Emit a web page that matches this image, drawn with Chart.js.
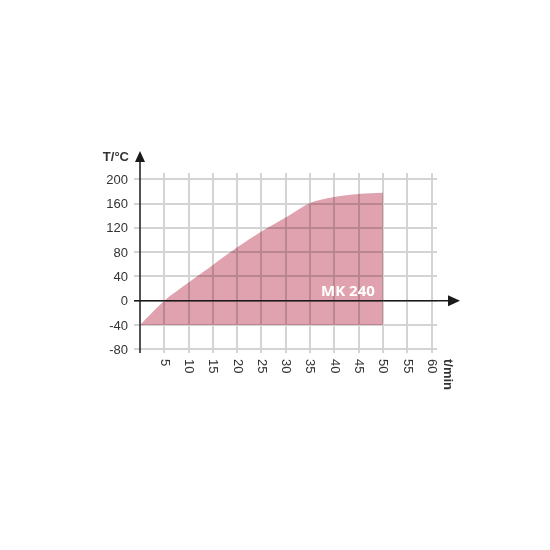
<!DOCTYPE html>
<html>
<head>
<meta charset="utf-8">
<script src="https://cdn.jsdelivr.net/npm/chart.js@4"></script>
<style>
  html, body { margin: 0; padding: 0; background: #fff; }
  #chart { display: block; }
</style>
</head>
<body>
<canvas id="chart" width="550" height="550"></canvas>
<script>
// heating curve, minutes vs °C
const times = [0, 5, 10, 15, 20, 25, 30, 35, 40, 45, 50];
const temps = [-40, 0, 30, 59, 88, 114, 137, 161, 171, 176, 178];
const xTicks = [5, 10, 15, 20, 25, 30, 35, 40, 45, 50, 55, 60];
const yTicks = [-80, -40, 0, 40, 80, 120, 160, 200];
const seriesName = 'MK 240';
const labelAt = { x: 42.8, y: 7.7 };

const axisDecor = {
    id: 'axisDecor',
    beforeDatasetsDraw(chart) {
        chart.ctx.save();
        chart.ctx.globalCompositeOperation = 'multiply';
    },
    afterDatasetsDraw(chart) {
        const ctx = chart.ctx;
        ctx.restore();
        const xs = chart.scales.x, ys = chart.scales.y, area = chart.chartArea;
        const x0 = xs.getPixelForValue(0);
        const y0 = ys.getPixelForValue(0);

        ctx.save();
        // series name
        ctx.fillStyle = '#ffffff';
        ctx.font = 'bold 15px "Open Sans"';
        ctx.textAlign = 'center';
        ctx.textBaseline = 'alphabetic';
        ctx.fillText(seriesName, xs.getPixelForValue(labelAt.x), ys.getPixelForValue(labelAt.y));

        // axes with arrows
        ctx.strokeStyle = '#1a1a1a';
        ctx.fillStyle = '#1a1a1a';
        ctx.lineWidth = 1.5;
        const topTip = area.top - 22;
        const rightTip = area.right + 23;
        ctx.beginPath();
        ctx.moveTo(x0, area.bottom);
        ctx.lineTo(x0, topTip + 8);
        ctx.moveTo(x0 - 6, y0);
        ctx.lineTo(rightTip - 10, y0);
        ctx.stroke();
        ctx.beginPath();
        ctx.moveTo(x0, topTip);
        ctx.lineTo(x0 - 5, topTip + 11);
        ctx.lineTo(x0 + 5, topTip + 11);
        ctx.closePath();
        ctx.fill();
        ctx.beginPath();
        ctx.moveTo(rightTip, y0);
        ctx.lineTo(rightTip - 12, y0 - 5.5);
        ctx.lineTo(rightTip - 12, y0 + 5.5);
        ctx.closePath();
        ctx.fill();

        // y tick labels
        ctx.fillStyle = '#333';
        ctx.font = '13px "Liberation Sans", Arial, sans-serif';
        ctx.textAlign = 'right';
        ctx.textBaseline = 'middle';
        yTicks.forEach(function (v) {
            ctx.fillText(String(v), x0 - 12, ys.getPixelForValue(v) + 1);
        });

        // x tick labels, rotated clockwise
        ctx.textAlign = 'left';
        xTicks.forEach(function (v) {
            ctx.save();
            ctx.translate(xs.getPixelForValue(v), area.bottom + 6);
            ctx.rotate(Math.PI / 2);
            ctx.fillText(String(v), 0, 0);
            ctx.restore();
        });
        ctx.font = 'bold 13px "Liberation Sans", Arial, sans-serif';
        ctx.save();
        ctx.translate(area.right + 11, area.bottom + 6);
        ctx.rotate(Math.PI / 2);
        ctx.fillText('t/min', 0, 0);
        ctx.restore();

        // y axis title
        ctx.textAlign = 'right';
        ctx.fillText('T/°C', x0 - 11, topTip + 6);
        ctx.restore();
    }
};

new Chart(document.getElementById('chart'), {
    type: 'line',
    data: {
        labels: times,
        datasets: [{
            label: seriesName,
            data: times.map(function (t, i) { return { x: t, y: temps[i] }; }),
            borderWidth: 0,
            borderColor: 'rgba(0,0,0,0)',
            backgroundColor: '#e0a2ae',
            pointRadius: 0,
            tension: 0.3,
            fill: { value: -40 }
        }]
    },
    options: {
        responsive: false,
        animation: false,
        layout: { padding: { left: 140, right: 113, top: 173, bottom: 197 } },
        plugins: { legend: { display: false }, tooltip: { enabled: false } },
        scales: {
            x: {
                type: 'linear',
                min: 0,
                max: 61.13,
                afterBuildTicks: function (s) { s.ticks = xTicks.map(function (v) { return { value: v }; }); },
                afterFit: function (s) { s.height = 0; },
                ticks: { display: false },
                border: { display: false },
                grid: { color: '#d4d4d4', lineWidth: 2, drawTicks: false }
            },
            y: {
                min: -86.1,
                max: 210.4,
                afterBuildTicks: function (s) { s.ticks = yTicks.map(function (v) { return { value: v }; }); },
                afterFit: function (s) { s.width = 0; },
                ticks: { display: false },
                border: { display: false },
                grid: { color: '#d4d4d4', lineWidth: 2, tickLength: 6 }
            }
        }
    },
    plugins: [axisDecor]
});
</script>
</body>
</html>
